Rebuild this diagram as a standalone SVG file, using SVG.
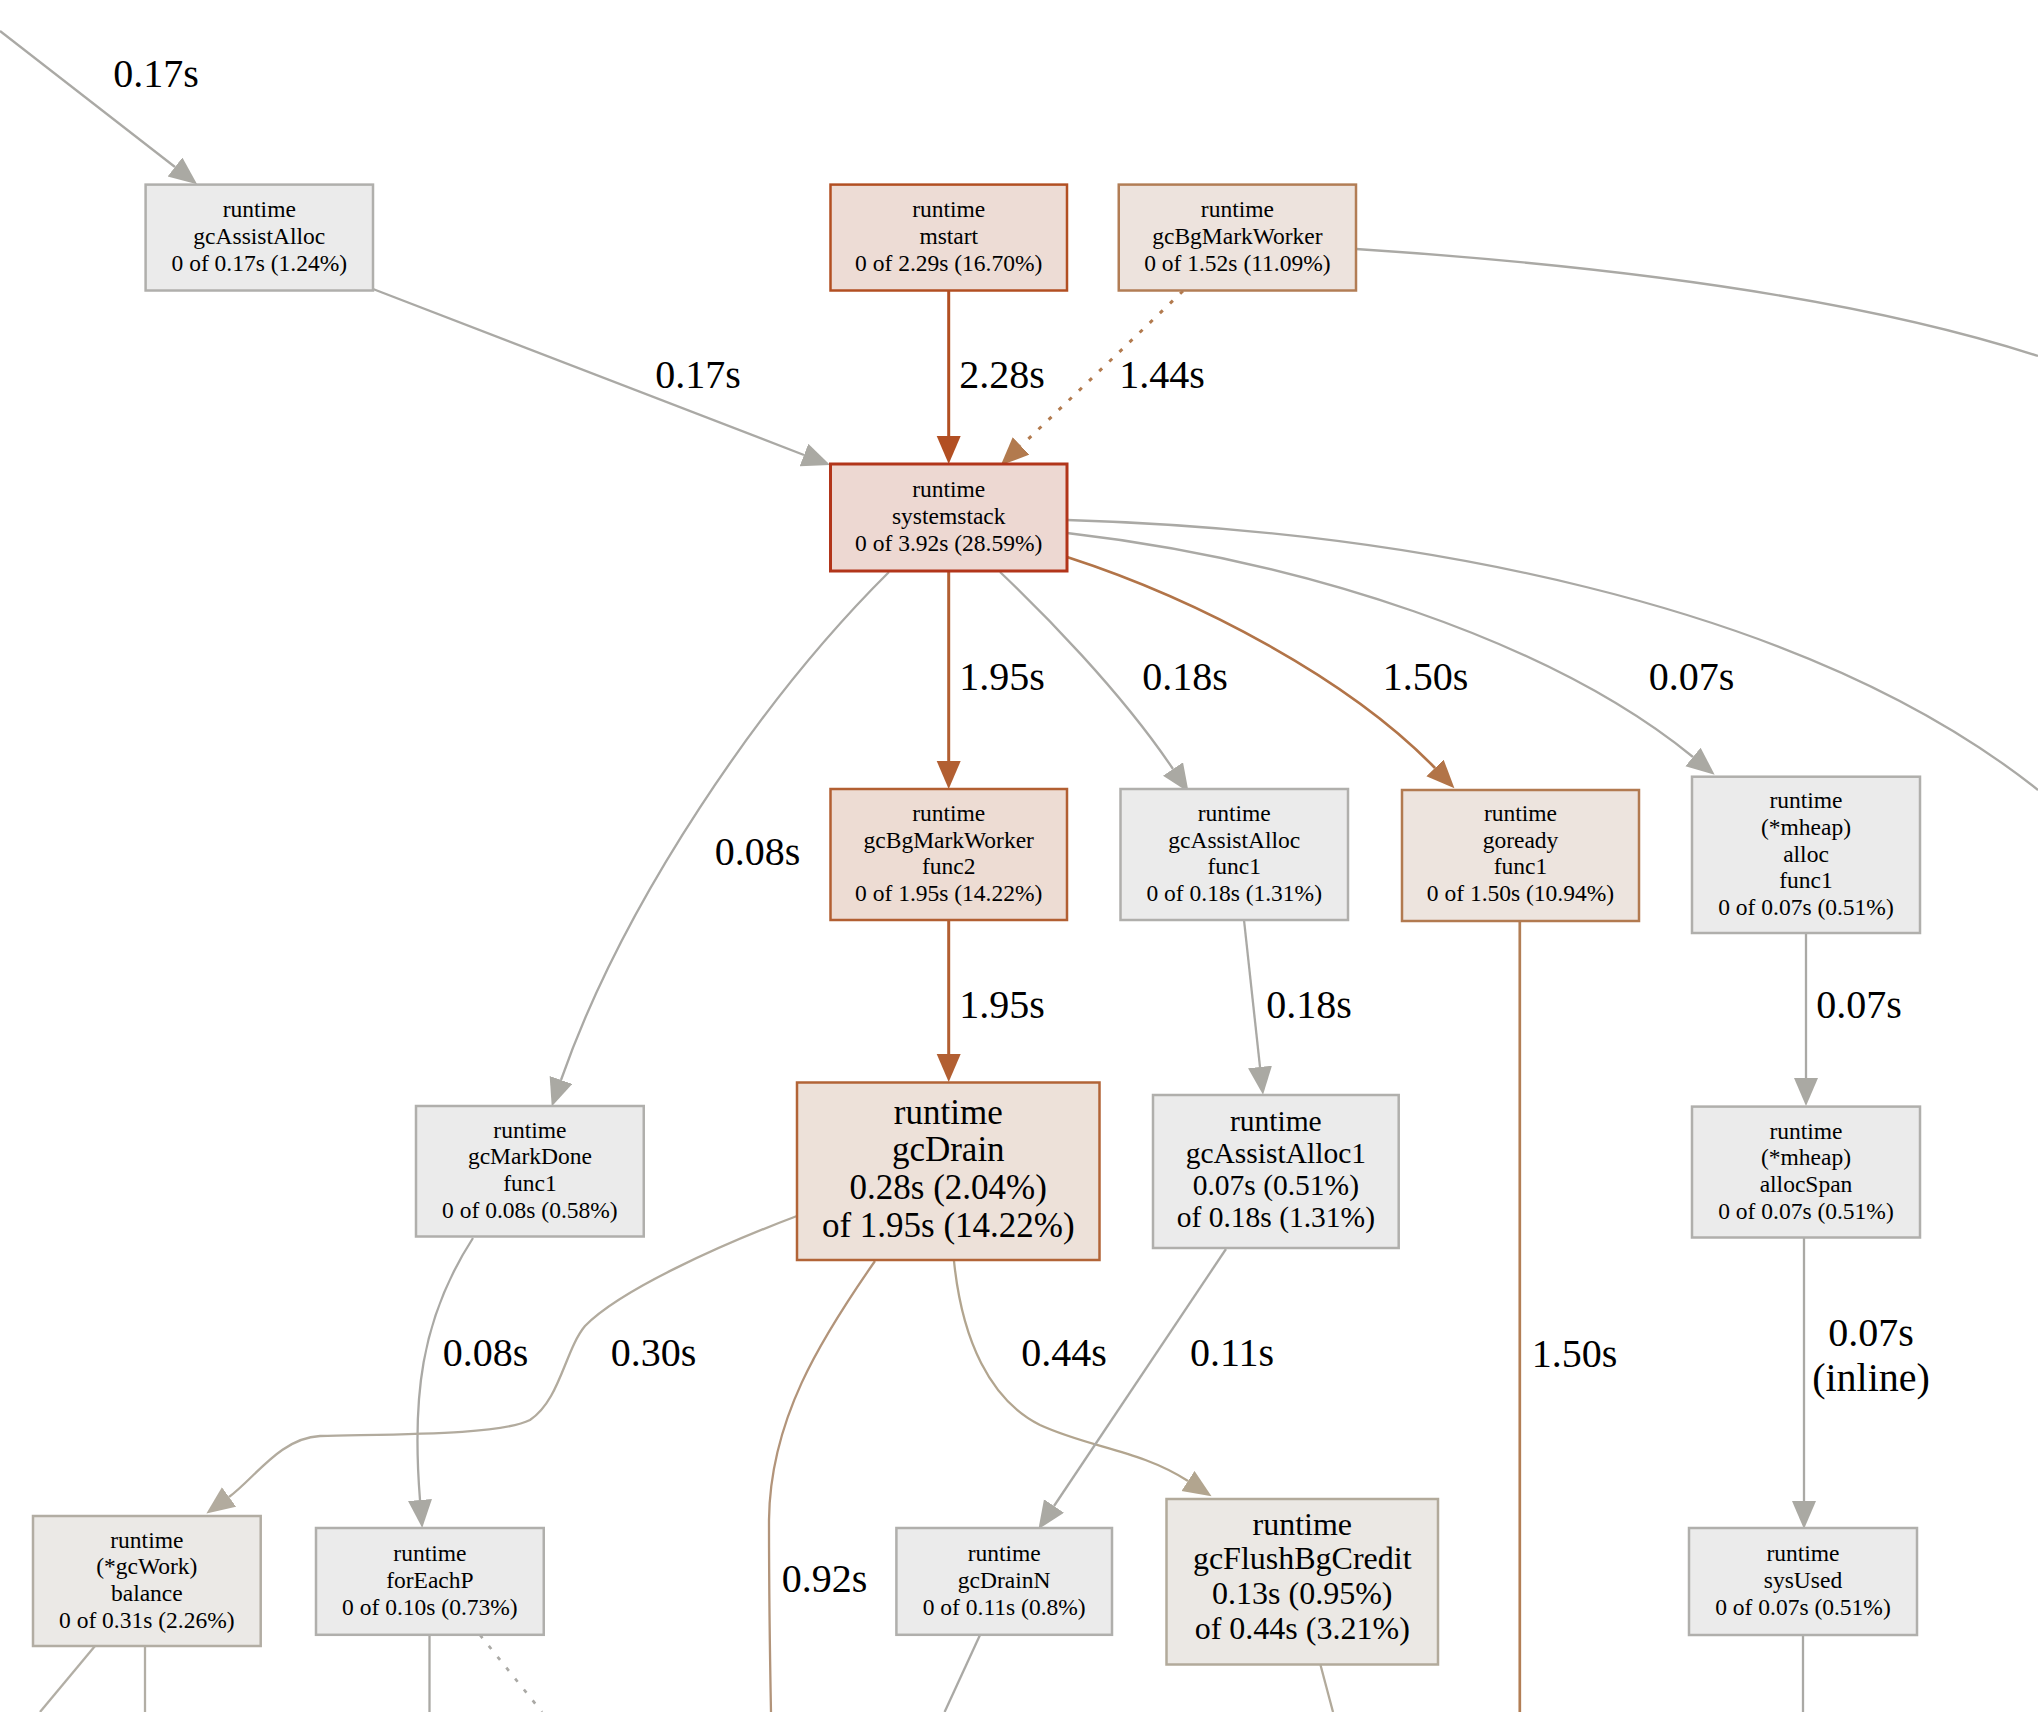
<svg xmlns="http://www.w3.org/2000/svg" width="2038" height="1712" viewBox="0 0 2038 1712">
<style>
.n rect{stroke-width:2.5}
.g rect{fill:#ebebeb;stroke:#b0afac}
text{font-family:"Liberation Serif","Times New Roman",serif;fill:#000;text-anchor:middle}
.s{font-size:23.5px}
.el{font-size:40px}
.e path{fill:none;stroke-width:2.3}
.gr{stroke:#aaa9a5}
</style>
<defs>
<marker id="ag" markerUnits="userSpaceOnUse" markerWidth="30" markerHeight="26" refX="0" refY="12" orient="auto"><path d="M0,0 L28,12 L0,24 z" fill="#aaa9a3"/></marker>
<marker id="a1" markerUnits="userSpaceOnUse" markerWidth="30" markerHeight="26" refX="0" refY="12" orient="auto"><path d="M0,0 L28,12 L0,24 z" fill="#b24f22"/></marker>
<marker id="a2" markerUnits="userSpaceOnUse" markerWidth="30" markerHeight="26" refX="0" refY="12" orient="auto"><path d="M0,0 L28,12 L0,24 z" fill="#b27a4e"/></marker>
<marker id="a3" markerUnits="userSpaceOnUse" markerWidth="30" markerHeight="26" refX="0" refY="12" orient="auto"><path d="M0,0 L28,12 L0,24 z" fill="#b25f32"/></marker>
<marker id="a4" markerUnits="userSpaceOnUse" markerWidth="30" markerHeight="26" refX="0" refY="12" orient="auto"><path d="M0,0 L28,12 L0,24 z" fill="#b27448"/></marker>
<marker id="a5" markerUnits="userSpaceOnUse" markerWidth="30" markerHeight="26" refX="0" refY="12" orient="auto"><path d="M0,0 L28,12 L0,24 z" fill="#b2ab9e"/></marker>
<marker id="a6" markerUnits="userSpaceOnUse" markerWidth="30" markerHeight="26" refX="0" refY="12" orient="auto"><path d="M0,0 L28,12 L0,24 z" fill="#b2a58f"/></marker>
</defs>
<rect width="2038" height="1712" fill="#fff"/>

<g id="edges" class="e">
<path class="gr" d="M0,31 L175,167" marker-end="url(#ag)"/>
<path class="gr" d="M373,289 L804,455" marker-end="url(#ag)"/>
<path d="M948.7,290 V436" stroke="#b24f22" style="stroke-width:3" marker-end="url(#a1)"/>
<path d="M1183,291 L1021,446" stroke="#b27a4e" style="stroke-width:3" stroke-dasharray="4,10" marker-end="url(#a2)"/>
<path class="gr" d="M1356,249 C1600,265 1850,295 2038,356"/>
<path class="gr" d="M1067,520 C1400,530 1800,600 2038,790"/>
<path class="gr" d="M1067,533 C1300,560 1550,640 1693,757" marker-end="url(#ag)"/>
<path d="M1067,557 C1200,600 1350,680 1435,768" stroke="#b27448" style="stroke-width:2.7" marker-end="url(#a4)"/>
<path d="M948.7,571 V761" stroke="#b25f32" style="stroke-width:3" marker-end="url(#a3)"/>
<path class="gr" d="M1000,572 C1040,610 1120,690 1173,769" marker-end="url(#ag)"/>
<path class="gr" d="M889,572 C760,700 623,903 561,1080" marker-end="url(#ag)"/>
<path d="M948.7,920 V1054" stroke="#b25f32" style="stroke-width:3" marker-end="url(#a3)"/>
<path class="gr" d="M1244,920 L1260,1067" marker-end="url(#ag)"/>
<path d="M1519.8,921 V1712" stroke="#b27e55" style="stroke-width:2.7"/>
<path class="gr" d="M1806,933 V1078" marker-end="url(#ag)"/>
<path class="gr" d="M1804,1238 V1501" marker-end="url(#ag)"/>
<path class="gr" d="M473,1238 C420,1320 412,1400 420,1500" marker-end="url(#ag)"/>
<path d="M797,1216 C720,1245 620,1290 585,1326 C565,1350 560,1400 530,1420 C500,1435 400,1434 320,1436 C280,1438 255,1478 229,1497" stroke="#b2ab9e" marker-end="url(#a5)"/>
<path d="M875,1261 C820,1340 770,1420 769,1520 C769,1600 770,1660 771,1712" stroke="#b2947a"/>
<path d="M954,1261 C962,1340 990,1400 1040,1425 C1090,1448 1140,1450 1188,1481" stroke="#b2a58f" marker-end="url(#a6)"/>
<path class="gr" d="M1226,1249 L1054,1506" marker-end="url(#ag)"/>
<path d="M95,1646 L40,1712" stroke="#b2aea5"/>
<path d="M145,1646 V1712" stroke="#b2aea5"/>
<path class="gr" d="M429.5,1635 V1712"/>
<path class="gr" d="M480,1635 L542,1712" style="stroke-width:2.7" stroke-dasharray="4,10"/>
<path class="gr" d="M980,1635 L944.6,1712"/>
<path d="M1320.5,1665 L1333,1712" stroke="#b2aa9b"/>
<path class="gr" d="M1803,1635 V1712"/>
</g>

<g id="edge-labels">
<text class="el" x="156" y="87">0.17s</text>
<text class="el" x="698" y="388">0.17s</text>
<text class="el" x="1002" y="388">2.28s</text>
<text class="el" x="1162" y="388">1.44s</text>
<text class="el" x="1002" y="690">1.95s</text>
<text class="el" x="1185" y="690">0.18s</text>
<text class="el" x="1425.5" y="690">1.50s</text>
<text class="el" x="1691.5" y="690">0.07s</text>
<text class="el" x="757.5" y="865">0.08s</text>
<text class="el" x="1002" y="1018">1.95s</text>
<text class="el" x="1309" y="1018">0.18s</text>
<text class="el" x="1859" y="1018">0.07s</text>
<text class="el" x="485.5" y="1366">0.08s</text>
<text class="el" x="653.5" y="1366">0.30s</text>
<text class="el" x="1064" y="1366">0.44s</text>
<text class="el" x="1232" y="1366">0.11s</text>
<text class="el" x="1574.5" y="1367">1.50s</text>
<text class="el" x="1871" y="1346">0.07s</text>
<text class="el" x="1871" y="1391">(inline)</text>
<text class="el" x="824.5" y="1592">0.92s</text>
</g>

<g id="node-gcAssistAlloc" class="n g">
<rect x="145.6" y="184.6" width="227.4" height="105.9"/>
<text class="s" x="259.3" y="217.3">runtime</text>
<text class="s" x="259.3" y="244">gcAssistAlloc</text>
<text class="s" x="259.3" y="270.7">0 of 0.17s (1.24%)</text>
</g>

<g id="node-mstart" class="n">
<rect x="830.5" y="184.6" width="236.5" height="105.9" fill="#eddcd5" stroke="#b24f22"/>
<text class="s" x="948.75" y="217.3">runtime</text>
<text class="s" x="948.75" y="244">mstart</text>
<text class="s" x="948.75" y="270.7">0 of 2.29s (16.70%)</text>
</g>

<g id="node-gcBgMarkWorker" class="n">
<rect x="1118.75" y="184.6" width="237.25" height="105.9" fill="#ede3dd" stroke="#b27d55"/>
<text class="s" x="1237.4" y="217.3">runtime</text>
<text class="s" x="1237.4" y="244">gcBgMarkWorker</text>
<text class="s" x="1237.4" y="270.7">0 of 1.52s (11.09%)</text>
</g>

<g id="node-systemstack" class="n">
<rect x="830.5" y="464" width="236.5" height="107" fill="#edd8d2" stroke="#b2351a" style="stroke-width:3"/>
<text class="s" x="948.75" y="497.3">runtime</text>
<text class="s" x="948.75" y="524">systemstack</text>
<text class="s" x="948.75" y="550.7">0 of 3.92s (28.59%)</text>
</g>

<g id="node-gcBgMarkWorker-func2" class="n">
<rect x="830.5" y="789" width="236.5" height="131" fill="#eddcd3" stroke="#b25f32"/>
<text class="s" x="948.75" y="821">runtime</text>
<text class="s" x="948.75" y="847.7">gcBgMarkWorker</text>
<text class="s" x="948.75" y="874.4">func2</text>
<text class="s" x="948.75" y="901.1">0 of 1.95s (14.22%)</text>
</g>

<g id="node-gcAssistAlloc-func1" class="n g">
<rect x="1120.5" y="789" width="227.5" height="131"/>
<text class="s" x="1234.25" y="821">runtime</text>
<text class="s" x="1234.25" y="847.7">gcAssistAlloc</text>
<text class="s" x="1234.25" y="874.4">func1</text>
<text class="s" x="1234.25" y="901.1">0 of 0.18s (1.31%)</text>
</g>

<g id="node-goready-func1" class="n">
<rect x="1402" y="790" width="237" height="131" fill="#ede4de" stroke="#b27a50"/>
<text class="s" x="1520.5" y="821">runtime</text>
<text class="s" x="1520.5" y="847.7">goready</text>
<text class="s" x="1520.5" y="874.4">func1</text>
<text class="s" x="1520.5" y="901.1">0 of 1.50s (10.94%)</text>
</g>

<g id="node-mheap-alloc-func1" class="n g">
<rect x="1692" y="776.7" width="228" height="156.3"/>
<text class="s" x="1806" y="808.1">runtime</text>
<text class="s" x="1806" y="834.8">(*mheap)</text>
<text class="s" x="1806" y="861.5">alloc</text>
<text class="s" x="1806" y="888.2">func1</text>
<text class="s" x="1806" y="914.9">0 of 0.07s (0.51%)</text>
</g>

<g id="node-gcMarkDone-func1" class="n g">
<rect x="416" y="1106" width="227.75" height="130.5"/>
<text class="s" x="529.9" y="1137.7">runtime</text>
<text class="s" x="529.9" y="1164.4">gcMarkDone</text>
<text class="s" x="529.9" y="1191.1">func1</text>
<text class="s" x="529.9" y="1217.8">0 of 0.08s (0.58%)</text>
</g>

<g id="node-gcDrain" class="n">
<rect x="797" y="1082.5" width="302.5" height="177.5" fill="#ede1d9" stroke="#b26437"/>
<text x="948.25" y="1123.7" style="font-size:35px">runtime</text>
<text x="948.25" y="1161.4" style="font-size:35px">gcDrain</text>
<text x="948.25" y="1199.1" style="font-size:35px">0.28s (2.04%)</text>
<text x="948.25" y="1236.8" style="font-size:35px">of 1.95s (14.22%)</text>
</g>

<g id="node-gcAssistAlloc1" class="n g">
<rect x="1153" y="1095" width="245.7" height="153"/>
<text x="1275.85" y="1130.5" style="font-size:29.5px">runtime</text>
<text x="1275.85" y="1162.8" style="font-size:29.5px">gcAssistAlloc1</text>
<text x="1275.85" y="1195.1" style="font-size:29.5px">0.07s (0.51%)</text>
<text x="1275.85" y="1227.4" style="font-size:29.5px">of 0.18s (1.31%)</text>
</g>

<g id="node-mheap-allocSpan" class="n g">
<rect x="1692" y="1106.6" width="228" height="130.9"/>
<text class="s" x="1806" y="1138.5">runtime</text>
<text class="s" x="1806" y="1165.2">(*mheap)</text>
<text class="s" x="1806" y="1191.9">allocSpan</text>
<text class="s" x="1806" y="1218.6">0 of 0.07s (0.51%)</text>
</g>

<g id="node-gcWork-balance" class="n">
<rect x="33" y="1516" width="227.7" height="130" fill="#ebe9e6" stroke="#b2ada3"/>
<text class="s" x="146.85" y="1547.5">runtime</text>
<text class="s" x="146.85" y="1574.2">(*gcWork)</text>
<text class="s" x="146.85" y="1600.9">balance</text>
<text class="s" x="146.85" y="1627.6">0 of 0.31s (2.26%)</text>
</g>

<g id="node-forEachP" class="n g">
<rect x="316" y="1528" width="227.75" height="106.8"/>
<text class="s" x="429.9" y="1561.2">runtime</text>
<text class="s" x="429.9" y="1587.9">forEachP</text>
<text class="s" x="429.9" y="1614.6">0 of 0.10s (0.73%)</text>
</g>

<g id="node-gcDrainN" class="n g">
<rect x="896.4" y="1528" width="215.6" height="106.8"/>
<text class="s" x="1004.2" y="1561.2">runtime</text>
<text class="s" x="1004.2" y="1587.9">gcDrainN</text>
<text class="s" x="1004.2" y="1614.6">0 of 0.11s (0.8%)</text>
</g>

<g id="node-gcFlushBgCredit" class="n">
<rect x="1166.5" y="1499" width="271.5" height="165.5" fill="#ebe8e4" stroke="#b2aa9b"/>
<text x="1302.25" y="1535" style="font-size:32px">runtime</text>
<text x="1302.25" y="1569" style="font-size:32px">gcFlushBgCredit</text>
<text x="1302.25" y="1603.5" style="font-size:32px">0.13s (0.95%)</text>
<text x="1302.25" y="1638.5" style="font-size:32px">of 0.44s (3.21%)</text>
</g>

<g id="node-sysUsed" class="n g">
<rect x="1689" y="1528" width="228" height="107"/>
<text class="s" x="1803" y="1561.2">runtime</text>
<text class="s" x="1803" y="1587.9">sysUsed</text>
<text class="s" x="1803" y="1614.6">0 of 0.07s (0.51%)</text>
</g>
</svg>
